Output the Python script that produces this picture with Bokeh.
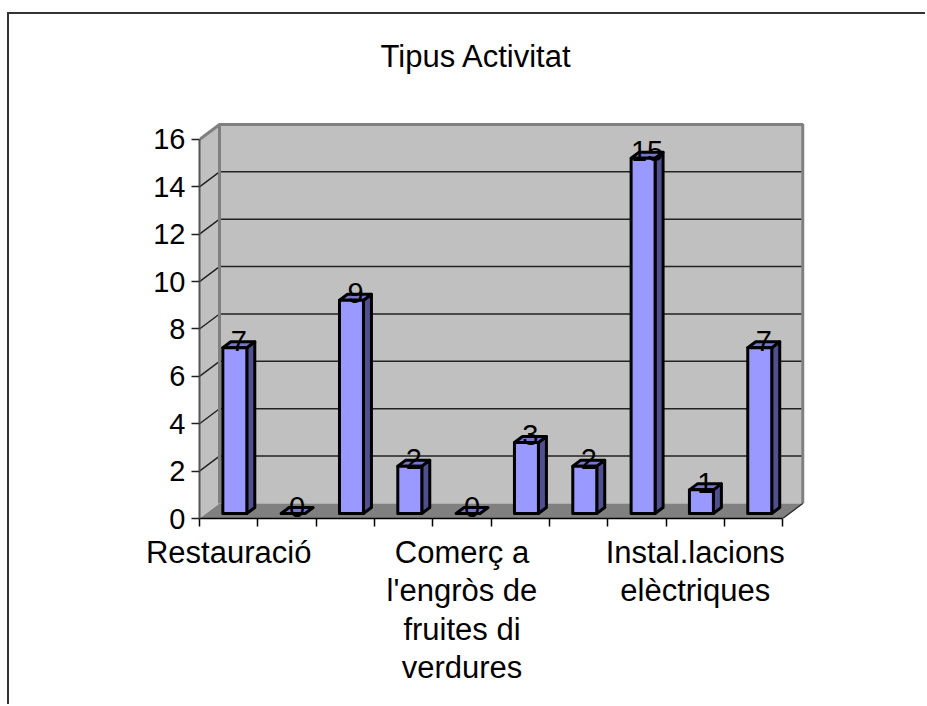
from bokeh.embed import file_html
from bokeh.resources import INLINE
from bokeh.plotting import figure
from bokeh.models import FixedTicker, Title, ColumnDataSource
from bokeh.core.properties import value

title_text = "Tipus Activitat"
values = [7, 0, 9, 2, 0, 3, 2, 15, 1, 7]
y_ticks = [0, 2, 4, 6, 8, 10, 12, 14, 16]
label_positions = [0.5, 4.5, 8.5]
label_texts = ["Restauració", "Comerç a\nl'engròs de\nfruites di\nverdures", "Instal.lacions\nelèctriques"]
n = len(values)
ymax = 16

# depth of the pseudo 3D box, in axis units
WALL_DX, WALL_DY = 0.343, 0.633
BAR_DX, BAR_DY = 0.137, 0.253
BAR_LEFT, BAR_W, BAR_BASE = 0.40, 0.411, 0.21

FONT = "Liberation Sans"
FS = "31px"
NUM_FS = "29px"

p = figure(width=918, height=692, output_backend="svg", toolbar_location=None,
           x_range=(0, 10.63), y_range=(0, 16.8),
           min_border_left=190, min_border_right=108, min_border_top=106, min_border_bottom=188)
p.styles = {"margin-left": "7px", "margin-top": "12px", "border-left": "2px solid #333333",
            "border-top": "2px solid #333333"}
p.outline_line_color = None
p.grid.visible = False
p.background_fill_color = "white"

# thin spacer panel that lifts the title clear of the plot box
p.add_layout(Title(text=" ", text_font_size="1px", standoff=21), "above")
p.add_layout(Title(text=title_text, text_font=FONT, text_font_size=FS, text_font_style="normal",
                   align="left", offset=181, standoff=45, text_color="black"), "above")

# y axis
ya = p.yaxis[0]
ya.ticker = FixedTicker(ticks=y_ticks)
ya.bounds = (0, ymax)
ya.axis_line_color = "#555555"
ya.axis_line_width = 2
ya.major_tick_in = 0
ya.major_tick_out = 8
ya.major_tick_line_color = "#222222"
ya.major_tick_line_width = 1.5
ya.minor_tick_line_color = None
ya.major_label_text_font = FONT
ya.major_label_text_font_size = NUM_FS
ya.major_label_text_color = "black"
ya.major_label_standoff = 6

# x axis
xa = p.xaxis[0]
xa.ticker = FixedTicker(ticks=label_positions, minor_ticks=list(range(n + 1)))
xa.major_label_overrides = dict(zip(label_positions, label_texts))
xa.bounds = (0, n)
xa.axis_line_color = "black"
xa.axis_line_width = 1.5
xa.major_tick_in = 0
xa.major_tick_out = 0
xa.minor_tick_in = 0
xa.minor_tick_out = 8
xa.minor_tick_line_color = "black"
xa.minor_tick_line_width = 1.5
xa.major_label_text_font = FONT
xa.major_label_text_font_size = FS
xa.major_label_text_color = "black"
xa.major_label_standoff = 8
xa.major_label_text_line_height = 1.1

# walls and floor
p.patch([0, WALL_DX, WALL_DX, 0], [0, WALL_DY, ymax + WALL_DY, ymax], fill_color="#C0C0C0", line_color=None)
p.patch([WALL_DX, n + WALL_DX, n + WALL_DX, WALL_DX], [WALL_DY, WALL_DY, ymax + WALL_DY, ymax + WALL_DY],
        fill_color="#C0C0C0", line_color=None)
p.patch([0, n, n + WALL_DX, WALL_DX], [0, 0, WALL_DY, WALL_DY], fill_color="#808080", line_color=None)

grid_vals = [v for v in y_ticks if 0 < v < ymax]
p.multi_line([[0, WALL_DX, n + WALL_DX] for _ in grid_vals],
             [[v, v + WALL_DY, v + WALL_DY] for v in grid_vals], line_color="#222222", line_width=1.5)
p.multi_line([[WALL_DX, WALL_DX], [0, WALL_DX, n + WALL_DX, n + WALL_DX]],
             [[WALL_DY, ymax + WALL_DY], [ymax, ymax + WALL_DY, ymax + WALL_DY, WALL_DY]],
             line_color="#808080", line_width=3)
p.line([n, n + WALL_DX], [0, WALL_DY], line_color="#222222", line_width=1.2)

# bars
front_x, front_y, side_x, side_y, top_x, top_y = [], [], [], [], [], []
for i, v in enumerate(values):
    l = i + BAR_LEFT
    r = l + BAR_W
    b = BAR_BASE
    t = b + v
    if v > 0:
        front_x.append([l, r, r, l])
        front_y.append([b, b, t, t])
        side_x.append([r, r + BAR_DX, r + BAR_DX, r])
        side_y.append([b, b + BAR_DY, t + BAR_DY, t])
    top_x.append([l, r, r + BAR_DX, l + BAR_DX])
    top_y.append([t, t, t + BAR_DY, t + BAR_DY])

p.patches(side_x, side_y, fill_color="#50508F", line_color="black", line_width=3, line_join="round")
p.patches(top_x, top_y, fill_color="#7777CC", line_color="black", line_width=3, line_join="round")
p.patches(front_x, front_y, fill_color="#9999FF", line_color="black", line_width=3, line_join="round")

# data labels
src = ColumnDataSource(dict(
    x=[i + BAR_LEFT + (BAR_W + BAR_DX) / 2 for i in range(n)],
    y=[BAR_BASE + v for v in values],
    t=[str(v) for v in values],
))
p.text("x", "y", text="t", source=src, text_align="center", text_baseline="middle", y_offset=-7,
       text_font=value(FONT), text_font_size=value(NUM_FS), text_color="black")

open("out.html", "w").write(file_html(p, INLINE))
